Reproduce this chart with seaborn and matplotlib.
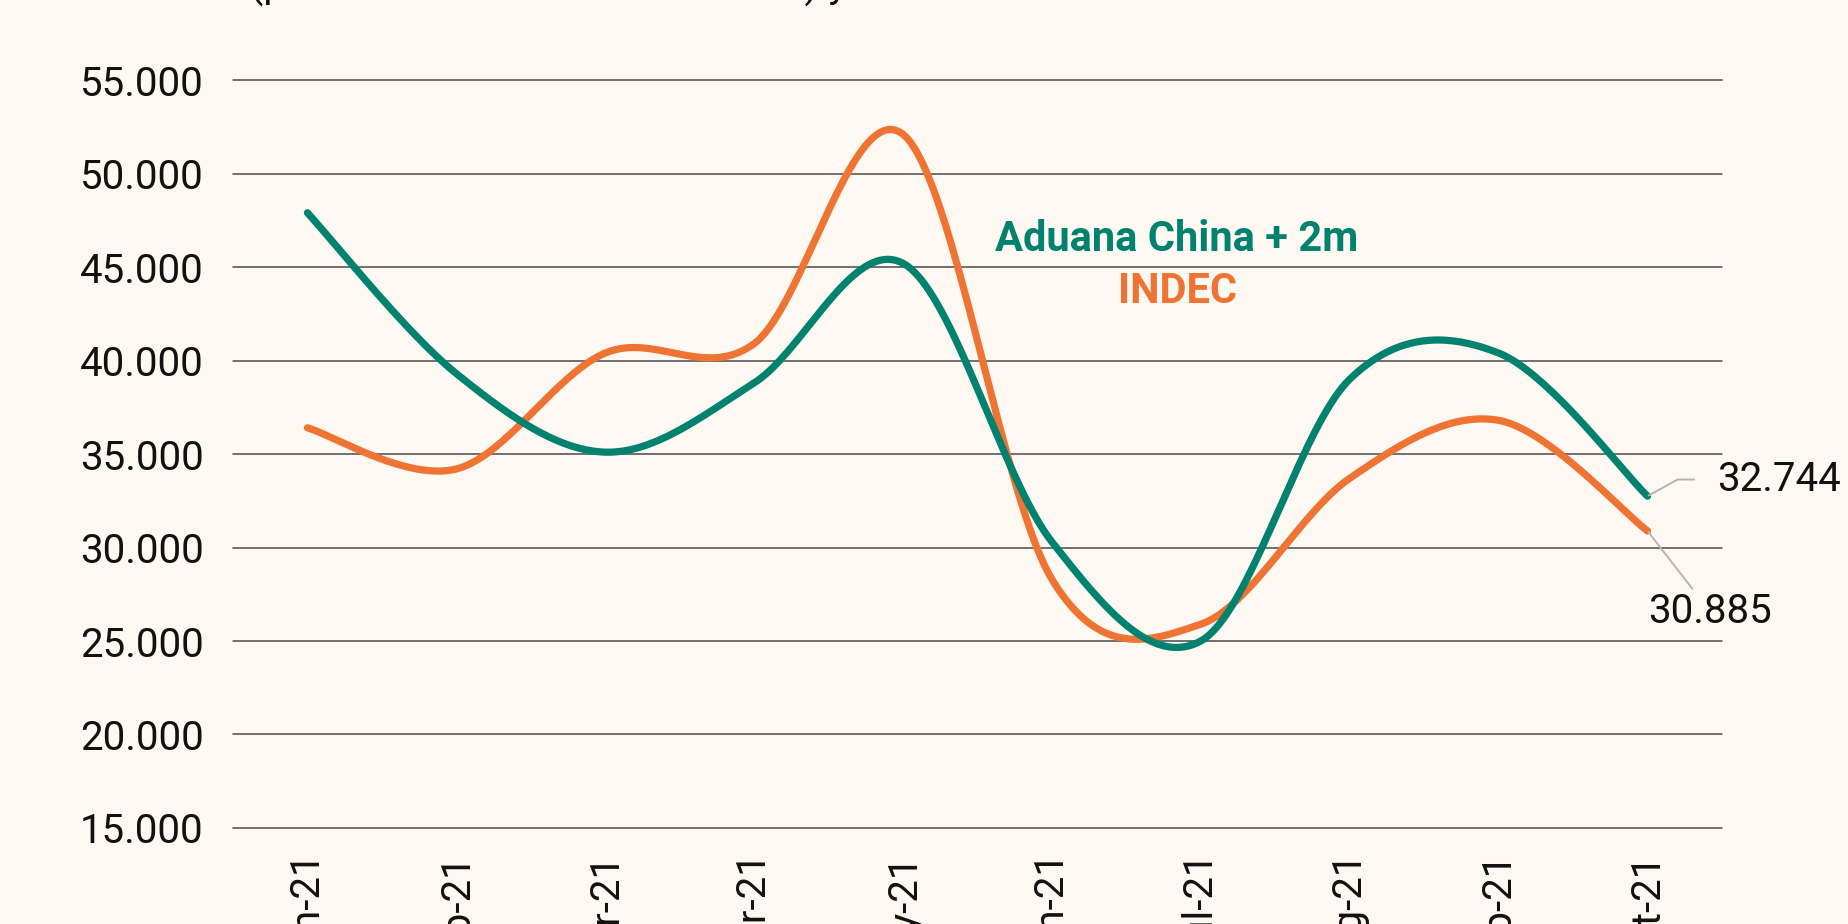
import numpy as np
import pandas as pd
import matplotlib
matplotlib.use("Agg")
import matplotlib.pyplot as plt
import seaborn as sns
from matplotlib.ticker import FuncFormatter

# data
months = ["Jan-21", "Feb-21", "Mar-21", "Apr-21", "May-21",
          "Jun-21", "Jul-21", "Aug-21", "Sep-21", "Oct-21"]
aduana = [47900, 39300, 35100, 38800, 45200, 30300, 25000, 39000, 40400, 32744]
indec = [36400, 34200, 40400, 40900, 52100, 28300, 25900, 33700, 36800, 30885]
y_ticks = [15000, 20000, 25000, 30000, 35000, 40000, 45000, 50000, 55000]

title = "Valor USD (promedio móvil de tres meses) y datos de la aduana"
label_aduana = "Aduana China + 2m"
label_indec = "INDEC"

TEAL = "#00826F"
ORANGE = "#EF7332"
BG = "#FDF8F1"

sns.set_theme(style="white")
plt.rcParams["font.family"] = ["Roboto", "DejaVu Sans"]


def smooth(values, n=40):
    # Excel-like smoothed line: cubic bezier through each point
    p = np.column_stack([np.arange(len(values)), np.asarray(values, float)])
    ext = np.vstack([p[0], p, p[-1]])
    xs, ys = [], []
    t = np.linspace(0, 1, n)[:, None]
    for i in range(len(p) - 1):
        p0, p1 = ext[i + 1], ext[i + 2]
        c1 = p0 + (ext[i + 2] - ext[i]) / 6
        c2 = p1 - (ext[i + 3] - ext[i + 1]) / 6
        seg = ((1 - t) ** 3) * p0 + 3 * ((1 - t) ** 2) * t * c1 + 3 * (1 - t) * t ** 2 * c2 + t ** 3 * p1
        xs.append(seg[:, 0])
        ys.append(seg[:, 1])
    return np.concatenate(xs), np.concatenate(ys)


fig = plt.figure(figsize=(18.49, 9.24), dpi=100, facecolor=BG)
ax = fig.add_axes([0.126, 0.1039, 0.8053, 0.8095])
ax.set_facecolor(BG)

for vals, col in [(indec, ORANGE), (aduana, TEAL)]:
    sx, sy = smooth(vals)
    df = pd.DataFrame({"x": sx, "y": sy})
    sns.lineplot(data=df, x="x", y="y", ax=ax, color=col, linewidth=5.2,
                 sort=False, estimator=None, solid_capstyle="round")

ax.set_xlim(-0.5, len(months) - 0.5)
ax.set_ylim(y_ticks[0], y_ticks[-1])
ax.set_yticks(y_ticks)
ax.yaxis.set_major_formatter(FuncFormatter(lambda v, _: f"{int(v):,}".replace(",", ".")))
ax.set_xticks(range(len(months)))
ax.set_xticklabels(months, rotation=90, va="top", ha="center")
ax.tick_params(axis="y", length=0, pad=21, labelsize=29, labelcolor="#111111")
ax.tick_params(axis="x", length=0, pad=17.5, labelsize=29, labelcolor="#111111")
ax.set_xlabel("")
ax.set_ylabel("")
ax.grid(False)
for v in y_ticks:
    ax.axhline(v, color="#4a4a4a", linewidth=1.1, zorder=0, clip_on=False)
for s in ax.spines.values():
    s.set_visible(False)

# end-point labels
ax.annotate(f"{aduana[-1]:,}".replace(",", "."), xy=(len(months) - 1, aduana[-1]),
            xytext=(50, 12), textcoords="offset points", ha="left", va="center",
            fontsize=29, color="#111111",
            arrowprops=dict(arrowstyle="-", color="#b5b5b5", lw=1.4, shrinkA=14, shrinkB=1,
                            connectionstyle="angle,angleA=0,angleB=29,rad=0"))
ax.annotate(f"{indec[-1]:,}".replace(",", "."), xy=(len(months) - 1, indec[-1]),
            xytext=(45, -58), textcoords="offset points", ha="center", va="center",
            fontsize=29, color="#111111",
            arrowprops=dict(arrowstyle="-", color="#b5b5b5", lw=1.4, shrinkA=0, shrinkB=1))

# series labels
fig.text(0.6366, 0.7403, label_aduana, ha="center", va="center",
         fontsize=30, fontweight="bold", color=TEAL)
fig.text(0.6366, 0.6840, label_indec, ha="center", va="center",
         fontsize=30, fontweight="bold", color=ORANGE)

# title, cropped at the top edge in the reference
fig.text(0.032, 1 + 2 / 924, title, ha="left", va="baseline", fontsize=29, color="#111111")

fig.savefig("out.png", dpi=100, facecolor=BG)
